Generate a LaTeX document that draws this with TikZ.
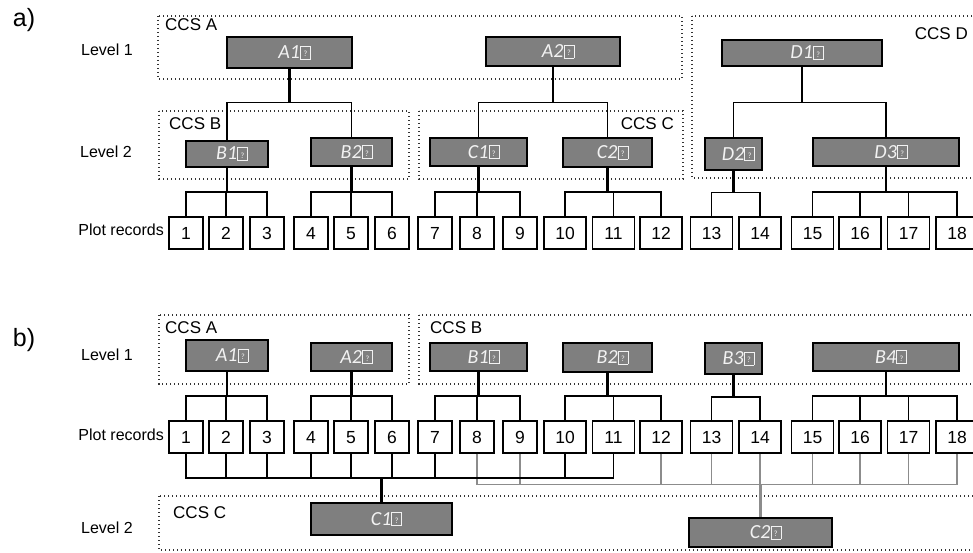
\documentclass[tikz,border=0pt]{standalone}
\usepackage{fontspec}
\setmainfont{Liberation Sans}
\newfontfamily\calfont{Carlito}
\usetikzlibrary{calc}
\newcommand\tofu{{\setlength\fboxsep{0.3pt}\setlength\fboxrule{0.6pt}\fbox{\makebox[0.44em][c]{\rule{0pt}{0.6em}\raisebox{0.08em}{\fontsize{8}{8}\selectfont\upshape ?}}}}}
\definecolor{boxgray}{RGB}{127,127,127}
\definecolor{lblwhite}{RGB}{242,242,242}
\definecolor{linegray}{RGB}{140,140,140}
\tikzset{
  ccs/.style={draw=black!80, line width=1.2pt, dash pattern=on 1.2pt off 2.8pt},
  grp/.style={draw=black, line width=1.8pt, fill=boxgray, text=lblwhite, inner sep=0pt,
    font=\calfont\itshape\fontsize{20}{20}\selectfont},
  rec/.style={draw=black, line width=1.8pt, fill=white, minimum height=31.5pt, inner sep=0pt,
    text height=12.6pt, text depth=0pt, font=\fontsize{17.5}{17.5}\selectfont},
  lbl/.style={inner sep=0pt, font=\fontsize{16}{16}\selectfont},
  ccslbl/.style={inner sep=0pt, font=\fontsize{17}{17}\selectfont},
  panel/.style={inner sep=0pt, font=\fontsize{25}{25}\selectfont},
  stem/.style={draw=black, line width=2.2pt},
  br/.style={draw=black, line width=1.5pt},
  gbr/.style={draw=linegray, line width=1.5pt},
  gstem/.style={draw=linegray, line width=2.2pt},
}
\newcommand\lab[1]{\hspace{10pt}#1\tofu}
\begin{document}
\begin{tikzpicture}[x=1pt,y=-1pt]
\useasboundingbox (0,0) rectangle (973,553);
\clip (0,0) rectangle (973,553);

% ---------------- panel a ----------------
\draw[ccs] (158,16) rectangle (682,79);
\draw[ccs] (159,111) rectangle (409,179);
\draw[ccs] (419,111) rectangle (683,179);
\draw[ccs] (692,16) rectangle (990,178);

\node[panel] (pa) at (24,20) {a)};
\node[lbl] (la1) at (107,50) {Level 1};
\node[lbl] (la2) at (106,152) {Level 2};
\node[lbl, anchor=east] (lar) at (164,230) {Plot records};
\node[ccslbl, anchor=west] (ca) at (165,25) {CCS A};
\node[ccslbl, anchor=west] (cb) at (169,124) {CCS B};
\node[ccslbl, anchor=east] (cc) at (674,124) {CCS C};
\node[ccslbl, anchor=east] (cd) at (968,34) {CCS D};

\node[grp, minimum width=125pt, minimum height=31pt] (aA1) at (289.5,52.5) {\lab{A1}};
\node[grp, minimum width=134pt, minimum height=29pt] (aA2) at (553,51.5) {\lab{A2}};
\node[grp, minimum width=160pt, minimum height=26pt] (aD1) at (802,53) {\lab{D1}};
\node[grp, minimum width=82pt, minimum height=26pt] (aB1) at (227,154) {\lab{B1}};
\node[grp, minimum width=81pt, minimum height=28pt] (aB2) at (351.5,152) {\lab{B2}};
\node[grp, minimum width=97pt, minimum height=28pt] (aC1) at (478.5,152) {\lab{C1}};
\node[grp, minimum width=89pt, minimum height=29pt] (aC2) at (607.5,152.5) {\lab{C2}};
\node[grp, minimum width=57pt, minimum height=32pt] (aD2) at (733.5,154) {\lab{D2}};
\node[grp, minimum width=146pt, minimum height=28pt] (aD3) at (886,152) {\lab{D3}};

\foreach \n/\x/\w in {1/186/34,2/226/34,3/267/34,4/311/34,5/351/34,6/392/34,7/435/34,8/477/34,9/520/34,
  10/565/42,11/613.5/42,12/661/42,13/711.5/42,14/760/42,15/812.5/42,16/860/42,17/908.5/42,18/957/42}{
  \node[rec, minimum width=\w pt] (a\n) at (\x,233) {\n};
  \node[rec, minimum width=\w pt] (b\n) at (\x,437) {\n};
}

% level 1 -> level 2
\coordinate (jaA) at (aA1.south |- 0,102.5);
\draw[stem] (aA1.south) -- (jaA);
\draw[br] (aB1.north) |- (jaA) -| (aB2.north);
\coordinate (jaA2) at (aA2.south |- 0,102.5);
\draw[stem] (aA2.south) -- (jaA2);
\draw[br] (aC1.north) |- (jaA2) -| (aC2.north);
\coordinate (jaD) at (aD1.south |- 0,102.5);
\draw[stem] (aD1.south) -- (jaD);
\draw[br] (aD2.north) |- (jaD) -| (aD3.north);

% level 2 -> plot records
\coordinate (jB1) at (aB1.south |- 0,192);
\draw[stem] (aB1.south) -- (jB1);
\draw[br] (a1.north) |- (jB1) -| (a3.north);
\draw[br] (a2.north) -- (a2.north |- jB1);
\coordinate (jB2) at (aB2.south |- 0,192);
\draw[stem] (aB2.south) -- (jB2);
\draw[br] (a4.north) |- (jB2) -| (a6.north);
\draw[br] (a5.north) -- (a5.north |- jB2);
\coordinate (jC1) at (aC1.south |- 0,192);
\draw[stem] (aC1.south) -- (jC1);
\draw[br] (a7.north) |- (jC1) -| (a9.north);
\draw[br] (a8.north) -- (a8.north |- jC1);
\coordinate (jC2) at (aC2.south |- 0,192);
\draw[stem] (aC2.south) -- (jC2);
\draw[br] (a10.north) |- (jC2) -| (a12.north);
\draw[br] (a11.north) -- (a11.north |- jC2);
\coordinate (jD2) at (aD2.south |- 0,192.5);
\draw[stem] (aD2.south) -- (jD2);
\draw[br] (a13.north) |- (jD2) -| (a14.north);
\coordinate (jD3) at (aD3.south |- 0,192);
\draw[stem] (aD3.south) -- (jD3);
\draw[br] (a15.north) |- (jD3) -| (a18.north);
\draw[br] (a16.north) -- (a16.north |- jD3);
\draw[br] (a17.north) -- (a17.north |- jD3);

% ---------------- panel b ----------------
\draw[ccs] (159,315) rectangle (409,384);
\draw[ccs] (419,315) rectangle (990,384);
\draw[ccs] (159,496) rectangle (990,550);

\node[panel] (pb) at (24,340) {b)};
\node[lbl] (lb1) at (107,355) {Level 1};
\node[lbl, anchor=east] (lbr) at (164,435) {Plot records};
\node[lbl] (lb2) at (107,528) {Level 2};
\node[ccslbl, anchor=west] (cba) at (165,328) {CCS A};
\node[ccslbl, anchor=west] (cbb) at (430,328) {CCS B};
\node[ccslbl, anchor=west] (cbc) at (173,513) {CCS C};

\node[grp, minimum width=82pt, minimum height=31pt] (bA1) at (227,355.5) {\lab{A1}};
\node[grp, minimum width=81pt, minimum height=28pt] (bA2) at (351.5,357) {\lab{A2}};
\node[grp, minimum width=97pt, minimum height=28pt] (bB1) at (478.5,357) {\lab{B1}};
\node[grp, minimum width=89pt, minimum height=29pt] (bB2) at (607.5,357.5) {\lab{B2}};
\node[grp, minimum width=57pt, minimum height=31pt] (bB3) at (733.5,358.5) {\lab{B3}};
\node[grp, minimum width=146pt, minimum height=28pt] (bB4) at (886,357) {\lab{B4}};
\node[grp, minimum width=141pt, minimum height=32pt] (bC1) at (381.5,519) {\lab{C1}};
\node[grp, minimum width=143pt, minimum height=29pt] (bC2) at (760.5,532.5) {\lab{C2}};

% level 1 -> plot records
\coordinate (kA1) at (bA1.south |- 0,396);
\draw[stem] (bA1.south) -- (kA1);
\draw[br] (b1.north) |- (kA1) -| (b3.north);
\draw[br] (b2.north) -- (b2.north |- kA1);
\coordinate (kA2) at (bA2.south |- 0,396);
\draw[stem] (bA2.south) -- (kA2);
\draw[br] (b4.north) |- (kA2) -| (b6.north);
\draw[br] (b5.north) -- (b5.north |- kA2);
\coordinate (kB1) at (bB1.south |- 0,396);
\draw[stem] (bB1.south) -- (kB1);
\draw[br] (b7.north) |- (kB1) -| (b9.north);
\draw[br] (b8.north) -- (b8.north |- kB1);
\coordinate (kB2) at (bB2.south |- 0,396);
\draw[stem] (bB2.south) -- (kB2);
\draw[br] (b10.north) |- (kB2) -| (b12.north);
\draw[br] (b11.north) -- (b11.north |- kB2);
\coordinate (kB3) at (bB3.south |- 0,397);
\draw[stem] (bB3.south) -- (kB3);
\draw[br] (b13.north) |- (kB3) -| (b14.north);
\coordinate (kB4) at (bB4.south |- 0,396);
\draw[stem] (bB4.south) -- (kB4);
\draw[br] (b15.north) |- (kB4) -| (b18.north);
\draw[br] (b16.north) -- (b16.north |- kB4);
\draw[br] (b17.north) -- (b17.north |- kB4);

% plot records -> level 2 (C2, gray)
\coordinate (kC2) at (bC2.north |- 0,484.5);
\draw[gbr] (b8.south) |- (kC2) -| (b18.south);
\foreach \i in {9,12,13,14,15,16,17}{
  \draw[gbr] (b\i.south) -- (b\i.south |- kC2);
}
\draw[gstem] (kC2) -- (bC2.north);

% plot records -> level 2 (C1, black)
\coordinate (kC1) at (bC1.north |- 0,478);
\draw[br] (b1.south) |- (kC1) -| (b11.south);
\foreach \i in {2,3,4,5,6,7,10}{
  \draw[br] (b\i.south) -- (b\i.south |- kC1);
}
\draw[stem] (kC1) -- (bC1.north);

\end{tikzpicture}
\end{document}
